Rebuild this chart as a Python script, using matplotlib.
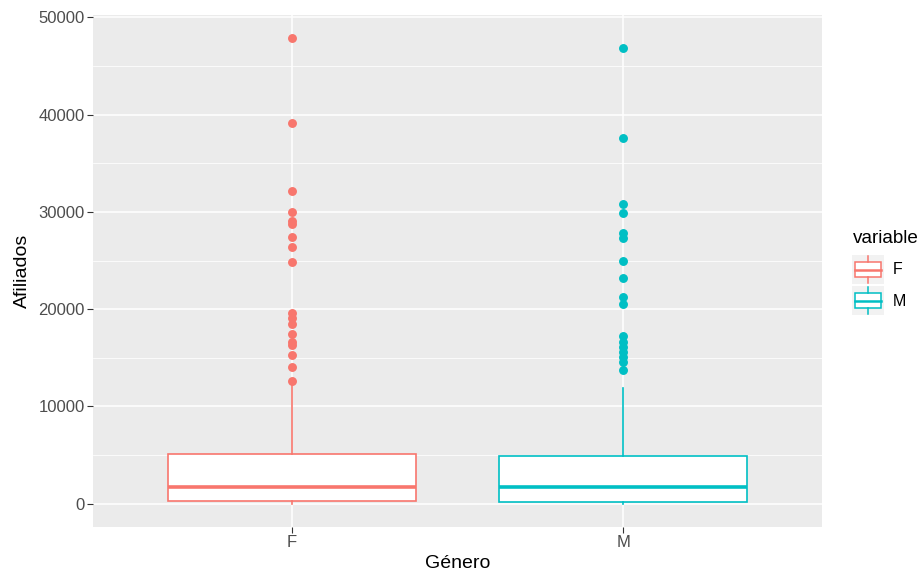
import numpy as np
import matplotlib
matplotlib.use("Agg")
import matplotlib.pyplot as plt
from matplotlib.patches import Rectangle

plt.rcParams['font.family'] = ['Liberation Sans', 'DejaVu Sans']

# data
generos = ['F', 'M']
colores = ['#F8766D', '#00BFC4']
q1 = [300, 200]
mediana = [1750, 1750]
q3 = [5150, 4950]
bigote_inf = [0, 0]
bigote_sup = [12300, 11850]
outliers_f = [47900, 39100, 32160, 29970, 29070, 28760, 27420, 26430, 24810,
              19560, 19110, 18520, 17420, 16630, 16290, 15260, 14060, 12610]
outliers_m = [46870, 37600, 30790, 29930, 27800, 27290, 24950, 23160, 21270,
              20520, 17220, 16630, 16120, 15600, 15080, 14570, 13710]
outliers = [outliers_f, outliers_m]
y_ticks = [0, 10000, 20000, 30000, 40000, 50000]

fig = plt.figure(figsize=(9.2, 5.71), dpi=100)
ax = fig.add_axes([93 / 920, 1 - 527 / 571, (822 - 93) / 920, (527 - 14.6) / 571])
ax.set_facecolor('#EBEBEB')

stats = []
for i in range(2):
    stats.append({'med': mediana[i], 'q1': q1[i], 'q3': q3[i],
                  'whislo': bigote_inf[i], 'whishi': bigote_sup[i],
                  'fliers': outliers[i]})

for i, s in enumerate(stats):
    c = colores[i]
    ax.bxp([s], positions=[i + 1], widths=0.75, showcaps=False, patch_artist=True,
           boxprops=dict(facecolor='white', edgecolor=c, linewidth=1.2),
           whiskerprops=dict(color=c, linewidth=1.2),
           medianprops=dict(color=c, linewidth=2.6, solid_capstyle='butt'),
           flierprops=dict(marker='o', markerfacecolor=c, markeredgecolor=c,
                           markersize=5.4, linestyle='none'),
           zorder=3)

ymin = 0
ymax = max(outliers_f)
pad = (ymax - ymin) * 0.05
ax.set_ylim(ymin - pad, ymax + pad)
ax.set_xlim(0.4, 2.6)

ax.set_yticks(y_ticks)
ax.set_yticks(np.arange(5000, 50000, 10000), minor=True)
ax.set_xticks([1, 2])
ax.set_xticklabels(generos)
ax.grid(True, which='major', color='white', linewidth=1.1, zorder=0)
ax.grid(True, which='minor', axis='y', color='white', linewidth=0.55, zorder=0)
ax.set_axisbelow(True)
for sp in ax.spines.values():
    sp.set_visible(False)
ax.tick_params(which='major', length=4, width=0.8, color='#333333',
               labelcolor='#4D4D4D', labelsize=12, pad=2)
ax.tick_params(which='minor', length=0)

ax.set_xlabel('Género', fontsize=14, color='black', labelpad=3)
ax.set_ylabel('Afiliados', fontsize=14, color='black', labelpad=5)

# legend drawn by hand, ggplot style
fig.text(853 / 920, 1 - 243 / 571, 'variable', fontsize=13.6, va='baseline', ha='left')
for i, g in enumerate(generos):
    top = 254 + i * 31
    kax = fig.add_axes([852 / 920, 1 - (top + 31) / 571, 32 / 920, 31 / 571])
    kax.set_xlim(0, 1)
    kax.set_ylim(0, 1)
    kax.axis('off')
    kax.add_patch(Rectangle((0, 0.02), 1, 0.96, facecolor='#F2F2F2', edgecolor='none'))
    c = colores[i]
    kax.plot([0.5, 0.5], [0.06, 0.25], color=c, lw=1.1)
    kax.plot([0.5, 0.5], [0.75, 0.94], color=c, lw=1.1)
    kax.add_patch(Rectangle((0.1, 0.25), 0.8, 0.5, facecolor='white', edgecolor=c, lw=1.1))
    kax.plot([0.1, 0.9], [0.5, 0.5], color=c, lw=1.8)
    fig.text(893 / 920, 1 - (top + 16) / 571, g, fontsize=11.5, va='center', ha='left')

fig.savefig('out.png', dpi=100)
